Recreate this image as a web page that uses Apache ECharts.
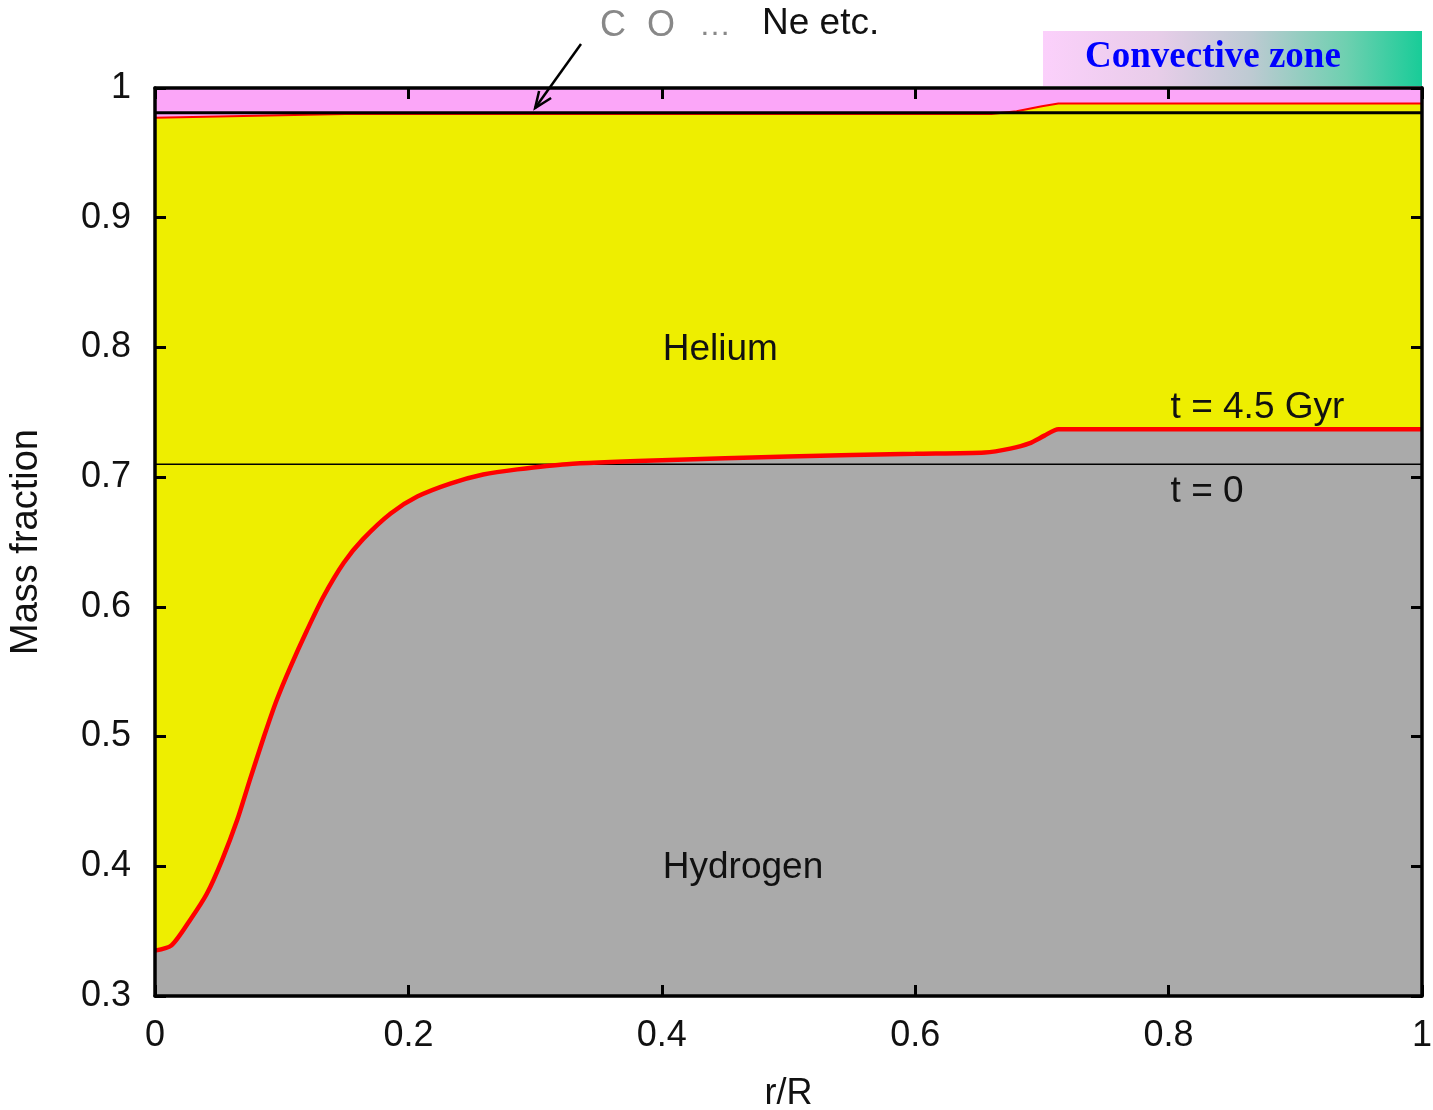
<!DOCTYPE html>
<html>
<head>
<meta charset="utf-8">
<script src="https://cdn.jsdelivr.net/npm/echarts@6/dist/echarts.min.js"></script>
<style>
  html, body { margin: 0; padding: 0; background: #fff; }
  #chart_main { width: 1433px; height: 1110px; }
</style>
</head>
<body>
<div id="chart_main"></div>
<script>
// 数据：氢的质量分数边界 (t = 4.5 Gyr)
var hR = [0, 0.013, 0.028, 0.041, 0.053, 0.065, 0.075, 0.086, 0.096, 0.107, 0.120, 0.133, 0.149, 0.164, 0.186, 0.207, 0.233, 0.259, 0.286, 0.325, 0.40, 0.50, 0.60, 0.655, 0.675, 0.69, 0.702, 0.713, 1.0];
var hY = [0.335, 0.339, 0.359, 0.379, 0.405, 0.436, 0.467, 0.500, 0.528, 0.554, 0.582, 0.608, 0.634, 0.652, 0.672, 0.685, 0.695, 0.702, 0.706, 0.710, 0.713, 0.716, 0.718, 0.719, 0.722, 0.726, 0.732, 0.737, 0.737];
// 氢+氦 的上边界
var heR = [0, 0.1, 0.15, 0.3, 0.66, 0.68, 0.70, 0.713, 1.0];
var heY = [0.977, 0.979, 0.980, 0.980, 0.980, 0.982, 0.986, 0.988, 0.988];
// t = 0 时的边界
var h0Y = 0.71;
var he0Y = 0.981;

function pairs(xs, ys) {
    return xs.map(function (x, i) { return [x, ys[i]]; });
}

var myChart = echarts.init(document.getElementById('chart_main'));
var FONT = '"Liberation Sans", Arial, sans-serif';

var tickStyle = { show: true, inside: true, length: 11, lineStyle: { color: '#000', width: 3 } };
var lineStyle = { show: true, onZero: false, lineStyle: { color: '#000', width: 3.5 } };

var option = {
    backgroundColor: '#fff',
    animation: false,
    grid: { left: 155, right: 11, top: 88, bottom: 114, outerBoundsMode: 'none', containLabel: false },
    xAxis: [{
        type: 'value', min: 0, max: 1, interval: 0.2, position: 'bottom', z: 20,
        name: 'r/R', nameLocation: 'middle', nameGap: 80,
        nameTextStyle: { fontFamily: FONT, fontSize: 36, color: '#111' },
        axisLine: lineStyle, axisTick: tickStyle,
        axisLabel: { fontFamily: FONT, fontSize: 36, color: '#111', margin: 22 },
        splitLine: { show: false }
    }, {
        type: 'value', min: 0, max: 1, interval: 0.2, position: 'top', z: 20,
        axisLine: lineStyle, axisTick: tickStyle,
        axisLabel: { show: false }, splitLine: { show: false }
    }],
    yAxis: [{
        type: 'value', min: 0.3, max: 1, interval: 0.1, position: 'left', z: 20,
        name: 'Mass fraction', nameLocation: 'middle', nameGap: 109,
        nameTextStyle: { fontFamily: '"Liberation Sans Narrow", "Liberation Sans", sans-serif', fontSize: 38, color: '#111' },
        axisLine: lineStyle, axisTick: tickStyle,
        axisLabel: {
            fontFamily: FONT, fontSize: 36, color: '#111', margin: 24,
            formatter: function (v) { return String(Math.round(v * 10) / 10); }
        },
        splitLine: { show: false }
    }, {
        type: 'value', min: 0.3, max: 1, interval: 0.1, position: 'right', z: 20,
        axisLine: lineStyle, axisTick: tickStyle,
        axisLabel: { show: false }, splitLine: { show: false }
    }],
    series: [
        {   // 重元素 (粉色)
            type: 'line', data: [[0, 1], [1, 1]], showSymbol: false,
            lineStyle: { width: 0 }, areaStyle: { color: '#fba6f8', origin: 'start', opacity: 1 }, z: 1
        },
        {   // 氦 (黄色)
            type: 'line', data: pairs(heR, heY), showSymbol: false,
            lineStyle: { width: 0 }, areaStyle: { color: '#eeee00', origin: 'start', opacity: 1 }, z: 2
        },
        {   // 氢 (灰色)
            type: 'line', data: pairs(hR, hY), showSymbol: false, smooth: 0.25,
            lineStyle: { width: 0 }, areaStyle: { color: '#aaaaaa', origin: 'start', opacity: 1 }, z: 3
        },
        {   // t = 0 线
            type: 'line', data: [[0, h0Y], [1, h0Y]], showSymbol: false,
            lineStyle: { color: '#000', width: 1.5 }, z: 4
        },
        {   // t = 4.5 Gyr 线
            type: 'line', data: pairs(heR, heY), showSymbol: false,
            lineStyle: { color: '#ff0000', width: 2 }, z: 5
        },
        {
            type: 'line', data: [[0, he0Y], [1, he0Y]], showSymbol: false,
            lineStyle: { color: '#000', width: 3 }, z: 5
        },
        {
            type: 'line', data: pairs(hR, hY), showSymbol: false, smooth: 0.25,
            lineStyle: { color: '#ff0000', width: 4.5 }, z: 6
        }
    ]
};

myChart.setOption(option);

// 图中文字标注
function px(x, y) { return myChart.convertToPixel({ gridIndex: 0 }, [x, y]); }
var pHe = px(0.4, 0.797), pH = px(0.4, 0.397), pT45 = px(0.8, 0.752), pT0 = px(0.8, 0.687);
var pArrow = px(0.30, 0.99);

function txt(x, y, s, size, color) {
    return {
        type: 'text', left: x, top: y - size / 2 - 2, z: 100,
        style: { text: s, fontFamily: FONT, fontSize: size, fill: color }
    };
}

myChart.setOption({
    graphic: [
        txt(pHe[0] + 1, pHe[1], 'Helium', 37, '#111'),
        txt(pH[0] + 1, pH[1], 'Hydrogen', 37, '#111'),
        txt(pT45[0] + 2, pT45[1], 't = 4.5 Gyr', 37, '#111'),
        txt(pT0[0] + 2, pT0[1], 't = 0', 37, '#111'),
        txt(600, 28, 'C', 36, '#888'),
        txt(647, 28, 'O', 36, '#888'),
        txt(699, 28, '\u2026', 32, '#888'),
        txt(762, 26, 'Ne etc.', 37, '#111'),
        {
            type: 'polyline', z: 100,
            shape: { points: [[581, 44], [pArrow[0], pArrow[1] + 7]] },
            style: { stroke: '#000', lineWidth: 2.5, fill: null }
        },
        {
            type: 'polyline', z: 100,
            shape: { points: [[pArrow[0] + 4, pArrow[1] - 10], [pArrow[0], pArrow[1] + 7], [pArrow[0] + 16, pArrow[1] - 3]] },
            style: { stroke: '#000', lineWidth: 2.5, fill: null }
        },
        {
            type: 'rect', z: 90,
            shape: { x: 1043, y: 31, width: 379, height: 55 },
            style: {
                fill: new echarts.graphic.LinearGradient(0, 0, 1, 0, [
                    { offset: 0, color: '#fbd0fb' },
                    { offset: 0.3, color: '#e8cde9' },
                    { offset: 0.55, color: '#bdcad2' },
                    { offset: 0.8, color: '#6ed0b0' },
                    { offset: 1, color: '#18cc98' }
                ])
            }
        },
        {
            type: 'text', z: 100, left: 1085, top: 39,
            style: { text: 'Convective zone', fontFamily: '"Liberation Serif", "Times New Roman", serif', fontWeight: 'bold', fontSize: 37, fill: '#0000ff' }
        }
    ]
});
</script>
</body>
</html>
